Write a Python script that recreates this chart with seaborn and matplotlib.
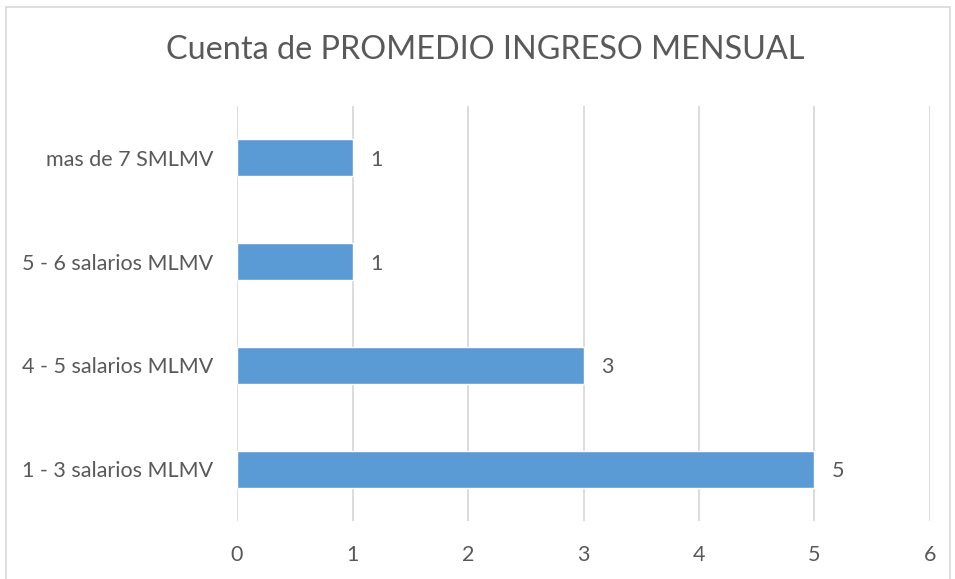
import matplotlib
matplotlib.use("Agg")
import matplotlib.pyplot as plt
import pandas as pd
import seaborn as sns
from matplotlib.patches import Rectangle

categories = ['mas de 7 SMLMV', '5 - 6 salarios MLMV', '4 - 5 salarios MLMV', '1 - 3 salarios MLMV']
counts = [1, 1, 3, 5]
x_ticks = [0, 1, 2, 3, 4, 5, 6]

sns.set_style('white')
plt.rcParams['font.family'] = ['Lato', 'DejaVu Sans']

text_color = '#595959'
bar_color = '#5B9BD5'
grid_color = '#D9D9D9'

df = pd.DataFrame({'Rango': categories, 'Cuenta': counts})

fig = plt.figure(figsize=(9.55, 5.79), dpi=100)
ax = fig.add_axes([0.2482, 0.1002, 0.7256, 0.7167])

sns.barplot(data=df, y='Rango', x='Cuenta', orient='h', color=bar_color,
            width=0.355, saturation=1, ax=ax, zorder=3)

ax.set_xlim(0, 6)
ax.set_ylim(3.5, -0.5)
ax.set_xticks(x_ticks)
ax.xaxis.grid(True, color=grid_color, linewidth=1.3, zorder=0)
for s in ax.spines.values():
    s.set_visible(False)
ax.set_xlabel('')
ax.set_ylabel('')
ax.tick_params(axis='both', length=0, labelsize=15.5, colors=text_color)
ax.tick_params(axis='x', pad=17)
ax.tick_params(axis='y', pad=17)

# etiquetas de valor al final de cada barra
for i, v in enumerate(counts):
    ax.text(v + 0.15, i + 0.02, str(v), va='center', ha='left', fontsize=15.5, color=text_color)

fig.text(0.508, 0.913, 'Cuenta de PROMEDIO INGRESO MENSUAL', ha='center', va='center',
         fontsize=23.3, color=text_color)

fig.patches.append(Rectangle((0.006, -0.01), 0.989, 0.998, transform=fig.transFigure,
                             fill=False, edgecolor='#D9D9D9', linewidth=1.2))

fig.savefig('out.png', dpi=100)
